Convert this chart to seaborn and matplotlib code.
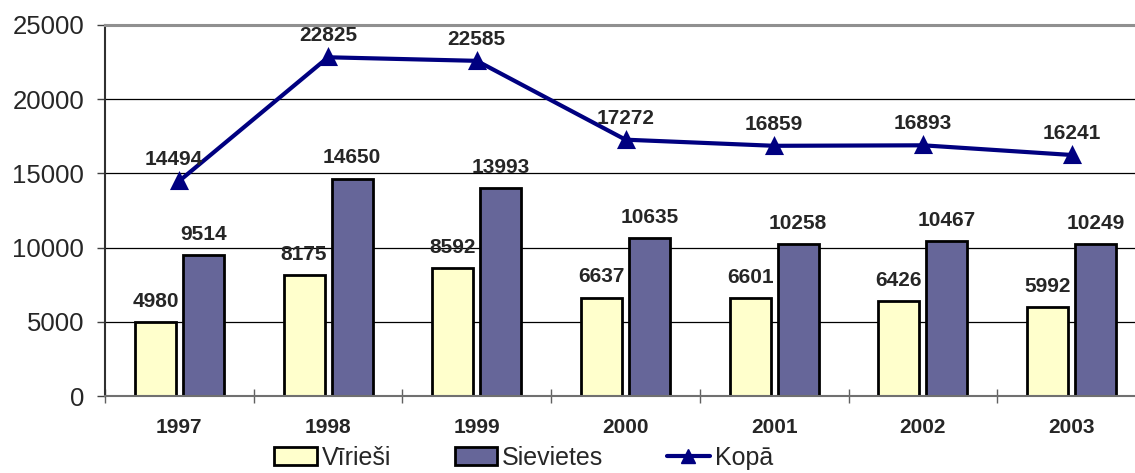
import matplotlib
matplotlib.use("Agg")
import matplotlib.pyplot as plt
import seaborn as sns
import pandas as pd
from matplotlib.patches import Patch
from matplotlib.lines import Line2D

years = ["1997", "1998", "1999", "2000", "2001", "2002", "2003"]
viriesi = [4980, 8175, 8592, 6637, 6601, 6426, 5992]
sievietes = [9514, 14650, 13993, 10635, 10258, 10467, 10249]
kopa = [14494, 22825, 22585, 17272, 16859, 16893, 16241]
series_names = ["Vīrieši", "Sievietes", "Kopā"]
yticks = [0, 5000, 10000, 15000, 20000, 25000]

sns.set_theme(style="white")
plt.rcParams["font.family"] = ["Liberation Sans", "DejaVu Sans"]

bar_colors = ["#FFFFCC", "#666699"]
line_color = "#000080"

df = pd.DataFrame({
    "Gads": years * 2,
    "Vērtība": viriesi + sievietes,
    "Dzimums": [series_names[0]] * len(years) + [series_names[1]] * len(years),
})

fig = plt.figure(figsize=(11.35, 4.73), dpi=100)
ax = fig.add_axes([105 / 1135, 77 / 473, 1041 / 1135, 371 / 473])

sns.barplot(data=df, x="Gads", y="Vērtība", hue="Dzimums", order=years,
            hue_order=series_names[:2], palette=bar_colors, saturation=1,
            width=0.645, gap=0.144, edgecolor="black", linewidth=2.0, ax=ax,
            legend=False, errorbar=None)

sns.pointplot(x=years, y=kopa, order=years, color=line_color, markers="^",
              markersize=10, linewidth=3, ax=ax, errorbar=None)

for cont in ax.containers:
    ax.bar_label(cont, fmt="%d", padding=8, fontsize=15, fontweight="bold")

for i, v in enumerate(kopa):
    ax.annotate(f"{v}", xy=(i, v), xytext=(-4 if i == 0 else 0, 11.5),
                textcoords="offset points", ha="center", va="baseline",
                fontsize=15, fontweight="bold")

ax.set_xlim(-0.5, 6.5)
ax.set_ylim(0, 25000)
ax.set_yticks(yticks)
ax.set_yticklabels([str(t) for t in yticks], fontsize=18.5)
ax.set_xlabel("")
ax.set_ylabel("")

ax.yaxis.grid(True, color="black", linewidth=0.9)
ax.set_axisbelow(True)
ax.tick_params(axis="y", which="major", direction="out", length=6,
               width=1, color="#404040", pad=9, left=True)
ax.set_xticks(range(len(years)))
ax.set_xticklabels(years, fontsize=15, fontweight="bold")
ax.tick_params(axis="x", which="major", length=0, pad=16)
ax.set_xticks([i - 0.5 for i in range(len(years) + 1)], minor=True)
ax.tick_params(axis="x", which="minor", direction="inout", length=10,
               width=1, color="#606060", bottom=True)

ax.spines["right"].set_visible(False)
ax.spines["top"].set_color("#909090")
ax.spines["top"].set_linewidth(2.2)
ax.spines["left"].set_color("#303030")
ax.spines["left"].set_linewidth(1.5)
ax.spines["bottom"].set_color("#707070")
ax.spines["bottom"].set_linewidth(1.5)

handles = [
    Patch(facecolor=bar_colors[0], edgecolor="black", linewidth=2),
    Patch(facecolor=bar_colors[1], edgecolor="black", linewidth=2),
    Line2D([0], [0], color=line_color, linewidth=3, marker="^", markersize=10),
]
fig.legend(handles, series_names, loc="upper left",
           bbox_to_anchor=(274 / 1135, 1 - 446 / 473), ncol=3, frameon=False,
           fontsize=18, handlelength=1.7, handleheight=0.75, handletextpad=0.2,
           columnspacing=2.55, borderaxespad=0, borderpad=0)

fig.savefig("out.png", dpi=100)
